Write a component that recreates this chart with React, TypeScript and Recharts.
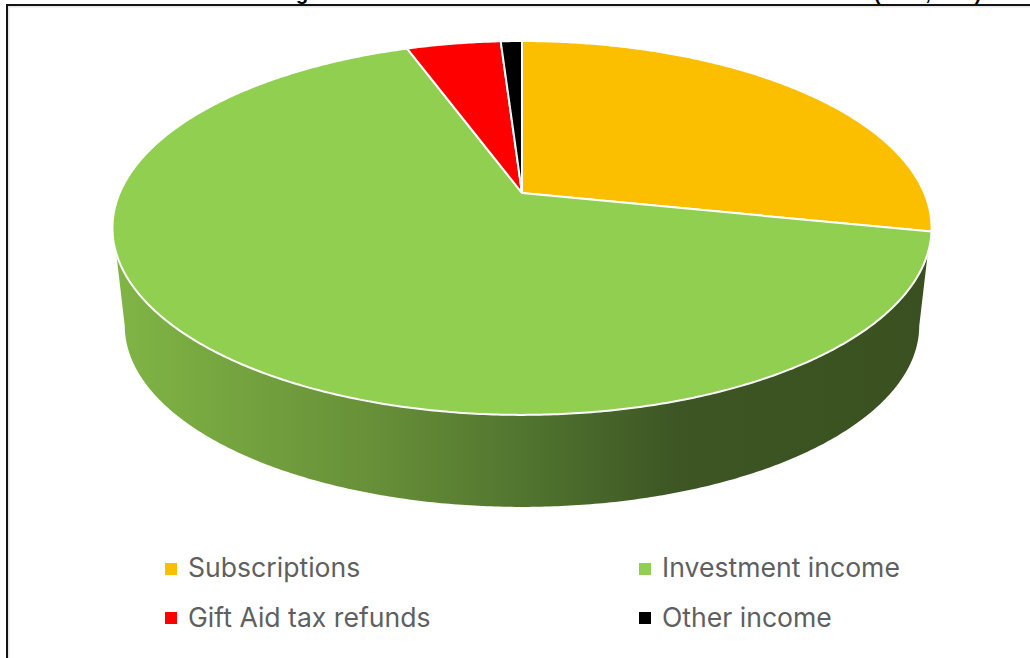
import React from "react";
import { PieChart, Pie, Legend } from "recharts";

const categories = ["Subscriptions", "Investment income", "Gift Aid tax refunds", "Other income"];
const shares = [28.3, 66.25, 4.45, 1.0];
const colors = ["#FCBF00", "#90CF50", "#FF0000", "#000000"];

const tableRows = categories.map((name, i) => ({ name, value: shares[i], fill: colors[i] }));

// View geometry of the tilted disc
const TILT = 0.4484; // depth squash
const PERSPECTIVE = -0.187;
const WALL_SCALE = 0.97; // lower rim is further away
const WALL_DROP = 98.7; // apex shift of lower rim
const WALL_TOP_EDGE = 108.3; // deg clockwise from the top, where the wall leaves the top rim
const WALL_BOTTOM_EDGE = 100.9; // same, on the lower rim

const project = (cx: number, cy: number, r: number, deg: number, scale = 1, drop = 0) => {
  const a = (deg * Math.PI) / 180;
  const s = Math.sin(a);
  const t = -Math.cos(a);
  const d = 1 + PERSPECTIVE * t;
  return [cx + (scale * r * s) / d, cy + drop + (scale * r * TILT * t) / d];
};

const arcPoints = (cx: number, cy: number, r: number, from: number, to: number, scale = 1, drop = 0) => {
  const n = Math.max(2, Math.ceil(Math.abs(to - from) * 2));
  const pts: string[] = [];
  for (let i = 0; i <= n; i++) {
    const [x, y] = project(cx, cy, r, from + ((to - from) * i) / n, scale, drop);
    pts.push(`${x.toFixed(2)} ${y.toFixed(2)}`);
  }
  return pts;
};

const DiscSlice = (props: any) => {
  const { cx, cy, outerRadius: r, startAngle, endAngle, fill, index } = props;
  const a0 = 90 - startAngle;
  const a1 = 90 - endAngle;
  const top = arcPoints(cx, cy, r, a0, a1);
  const face = `M ${cx} ${cy} L ${top.join(" L ")} Z`;
  const frontFrom = Math.max(a0, WALL_TOP_EDGE);
  const frontTo = Math.min(a1, 360 - WALL_TOP_EDGE);
  let wall = null;
  if (frontTo > frontFrom) {
    const upper = arcPoints(cx, cy, r, frontFrom, frontTo);
    const lower = arcPoints(cx, cy, r, 360 - WALL_BOTTOM_EDGE, WALL_BOTTOM_EDGE, WALL_SCALE, WALL_DROP);
    const id = `wall-${index}`;
    wall = (
      <g>
        <defs>
          <linearGradient id={id} x1="0" y1="0" x2="1" y2="0">
            <stop offset="0" stopColor="#80B545" />
            <stop offset="0.32" stopColor="#678F38" />
            <stop offset="0.5" stopColor="#51752F" />
            <stop offset="0.69" stopColor="#3D5624" />
            <stop offset="1" stopColor="#3A5020" />
          </linearGradient>
        </defs>
        <path d={`M ${upper.join(" L ")} L ${lower.join(" L ")} Z`} fill={`url(#${id})`} />
      </g>
    );
  }
  return (
    <g>
      {wall}
      <path d={face} fill={fill} stroke="#FFFFFF" strokeWidth={2} strokeLinejoin="round" />
    </g>
  );
};

const legendColumns = [165, 639];
const legendRows = [569, 618];

const LegendBlock = ({ payload }: any) => (
  <div style={{ position: "relative", width: 1030, height: 0 }}>
    {(payload || []).map((entry: any, i: number) => (
      <div
        key={entry.value}
        style={{
          position: "absolute",
          left: legendColumns[i % 2],
          top: legendRows[Math.floor(i / 2)] - 20,
          height: 40,
          display: "flex",
          alignItems: "center",
          whiteSpace: "nowrap",
          fontFamily: "Inter, sans-serif",
          fontSize: 26.6,
          color: "#5F5F5F",
        }}
      >
        <span style={{ width: 12, height: 12, marginRight: 11, background: entry.color ?? entry.payload?.fill, display: "inline-block" }} />
        <span style={{ position: "relative", top: i < 2 ? -2 : -1 }}>{entry.value}</span>
      </div>
    ))}
  </div>
);

const titleFragments = [
  { text: "g", x: 302 },
  { text: "(", x: 877 },
  { text: ",", x: 928 },
  { text: ")", x: 978 },
];

export default function App() {
  return (
    <div style={{ position: "absolute", left: 0, top: 0, width: 1030, height: 658, overflow: "hidden", background: "#FFFFFF" }}>
      <div
        style={{
          position: "absolute",
          left: 6,
          top: 4,
          width: 1030,
          height: 660,
          boxSizing: "border-box",
          borderLeft: "2px solid #141414",
          borderTop: "2px solid #141414",
          boxShadow: "inset 1.5px 1.5px 0 #E6E6E6",
        }}
      />
      <svg width={1030} height={4} style={{ position: "absolute", left: 0, top: 0 }}>
        {titleFragments.map((f) => (
          <text key={f.x} x={f.x} y={0} textAnchor="middle" fontFamily="Liberation Sans" fontWeight="bold" fontSize={20} fill="#000000">
            {f.text}
          </text>
        ))}
      </svg>
      <div style={{ position: "absolute", left: 0, top: 0 }}>
        <PieChart width={1030} height={658} margin={{ top: 0, right: 0, bottom: 0, left: 0 }}>
          <Pie
            data={tableRows}
            dataKey="value"
            nameKey="name"
            cx={522}
            cy={193}
            outerRadius={402.3}
            startAngle={90}
            endAngle={-270}
            stroke="none"
            isAnimationActive={false}
            labelLine={false}
            shape={DiscSlice}
          />
          <Legend
            content={<LegendBlock />}
            layout="horizontal"
            verticalAlign="middle"
            align="center"
            itemSorter={null}
            wrapperStyle={{ position: "absolute", left: 0, top: 0, width: 1030, height: 0, pointerEvents: "none" }}
          />
        </PieChart>
      </div>
    </div>
  );
}
